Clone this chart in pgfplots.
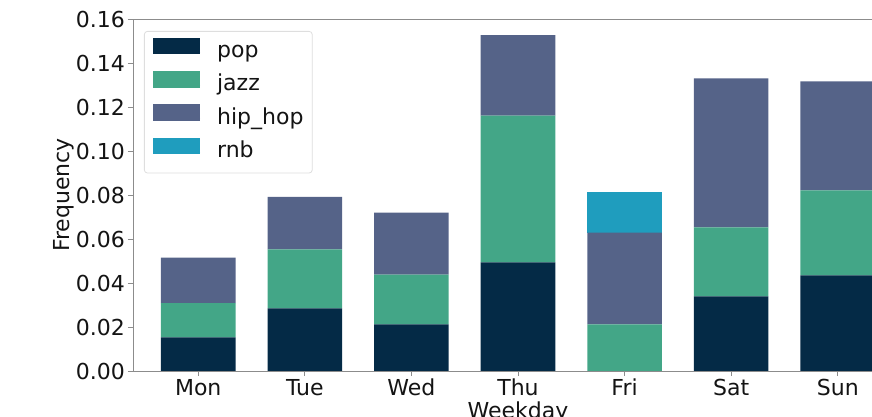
\documentclass[border=0pt]{standalone}
\usepackage{fontspec}
\setmainfont{DejaVu Sans}
\usepackage{pgfplots}
\pgfplotsset{compat=1.18}
\definecolor{cpop}{RGB}{4,42,70}
\definecolor{cjazz}{RGB}{67,166,135}
\definecolor{chip}{RGB}{85,99,136}
\definecolor{crnb}{RGB}{31,157,190}
\definecolor{spine}{RGB}{140,140,140}
\definecolor{txt}{RGB}{20,20,20}
\begin{document}
\fontsize{22}{26}\selectfont
\begin{tikzpicture}
\begin{axis}[
  scale only axis, width=770pt, height=352pt,
  xmin=-0.612, xmax=6.612, ymin=0, ymax=0.16,
  ybar stacked, bar width=0.7,
  xtick={0,1,2,3,4,5,6},
  xticklabels={Mon,Tue,Wed,Thu,Fri,Sat,Sun},
  ytick={0,0.02,0.04,0.06,0.08,0.10,0.12,0.14,0.16},
  scaled y ticks=false,
  yticklabel style={/pgf/number format/.cd, fixed, fixed zerofill, precision=2},
  /pgf/number format/assume math mode=true,
  tick pos=left, tick align=outside, major tick length=5pt,
  tick style={spine, line width=0.8pt},
  axis line style={spine, line width=0.8pt},
  tick label style={inner sep=3pt, text=txt},
  xlabel={Weekday}, ylabel={Frequency},
  xlabel style={at={(axis description cs:0.5,0)}, anchor=north, yshift=-31pt, inner sep=0pt, text=txt},
  ylabel style={at={(axis description cs:-0.0896,0.5)}, anchor=center, rotate=0, inner sep=0pt, text=txt},
  legend style={at={(axis description cs:0,1)}, anchor=north west, xshift=11pt, yshift=-12pt,
    draw={rgb,255:red,222;green,222;blue,222}, line width=0.8pt, rounded corners=3pt,
    inner xsep=8.7pt, inner ysep=9.7pt, row sep=11pt,
    nodes={inner sep=0pt, text height=16.6pt, text depth=5.7pt, text=txt},
    /tikz/every odd column/.append style={column sep=17pt}},
  legend cell align=left,
]
\addplot[fill=cpop, draw=none, legend image code/.code={\fill[cpop, sharp corners, overlay] (0pt,-2pt) rectangle (47pt,14.6pt); \path (0pt,0pt) -- (47pt,0pt);}]
  coordinates {(0,0.0153) (1,0.0285) (2,0.0212) (3,0.0494) (4,0) (5,0.0339) (6,0.0435)};
\addplot[fill=cjazz, draw=none, legend image code/.code={\fill[cjazz, sharp corners, overlay] (0pt,-2pt) rectangle (47pt,14.6pt); \path (0pt,0pt) -- (47pt,0pt);}]
  coordinates {(0,0.0155) (1,0.0268) (2,0.0226) (3,0.0667) (4,0.0212) (5,0.0314) (6,0.0386)};
\addplot[fill=chip, draw=none, legend image code/.code={\fill[chip, sharp corners, overlay] (0pt,-2pt) rectangle (47pt,14.6pt); \path (0pt,0pt) -- (47pt,0pt);}]
  coordinates {(0,0.0207) (1,0.0239) (2,0.0282) (3,0.0366) (4,0.0417) (5,0.0677) (6,0.0496)};
\addplot[fill=crnb, draw=none, legend image code/.code={\fill[crnb, sharp corners, overlay] (0pt,-2pt) rectangle (47pt,14.6pt); \path (0pt,0pt) -- (47pt,0pt);}]
  coordinates {(0,0) (1,0) (2,0) (3,0) (4,0.0183) (5,0) (6,0)};
\legend{pop,jazz,hip\_hop,rnb}
\coordinate (sw) at (rel axis cs:0,0);
\end{axis}
\pgfresetboundingbox
\path[use as bounding box] ([shift={(-133pt,-46pt)}]sw) rectangle ([shift={(739pt,371pt)}]sw);
\end{tikzpicture}
\end{document}
